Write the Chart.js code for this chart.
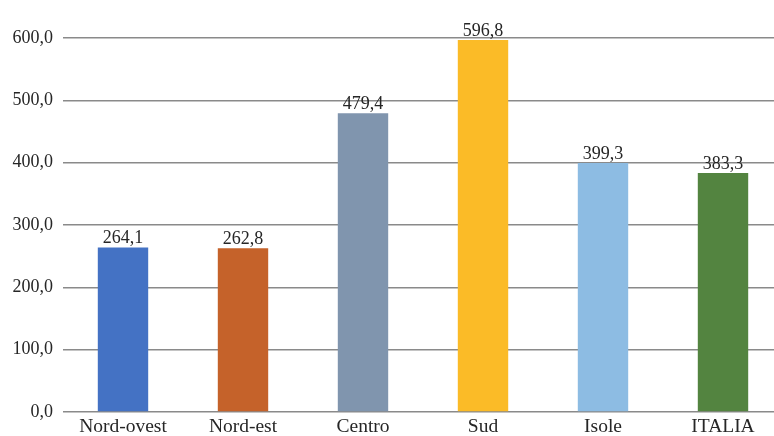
<!DOCTYPE html>
<html>
<head>
<meta charset="utf-8">
<script src="https://cdn.jsdelivr.net/npm/chart.js@4/dist/chart.umd.min.js"></script>
<style>
  html, body { margin: 0; padding: 0; background: #fff; overflow: hidden; }
  #wrap { width: 792px; height: 436px; }
</style>
</head>
<body>
<div id="wrap"><canvas id="chart" width="792" height="436"></canvas></div>
<script>
const categories = ['Nord-ovest', 'Nord-est', 'Centro', 'Sud', 'Isole', 'ITALIA'];
const values = [264.1, 262.8, 479.4, 596.8, 399.3, 383.3];
const barColors = ['#4472C4', '#C5622A', '#8095AE', '#FBBB27', '#8DBCE3', '#538440'];
const yTicks = [0, 100, 200, 300, 400, 500, 600];

const fontFamily = '"Liberation Serif", "DejaVu Serif", serif';
const fmt = (v) => v.toFixed(1).replace('.', ',');

// draws the value above each bar
const valueLabels = {
  id: 'valueLabels',
  afterDatasetsDraw(chart) {
    const ctx = chart.ctx;
    const meta = chart.getDatasetMeta(0);
    ctx.save();
    ctx.font = '18px ' + fontFamily;
    ctx.fillStyle = '#262626';
    ctx.textAlign = 'center';
    ctx.textBaseline = 'alphabetic';
    meta.data.forEach((bar, i) => {
      ctx.fillText(fmt(values[i]), bar.x, bar.y - 4);
    });
    ctx.restore();
  }
};

const ctx = document.getElementById('chart').getContext('2d');
const chart = new Chart(ctx, {
  type: 'bar',
  data: {
    labels: categories,
    datasets: [{
      data: values,
      backgroundColor: barColors,
      borderWidth: 0,
      categoryPercentage: 1,
      barPercentage: 0.42,
    }],
  },
  options: {
    responsive: false,
    animation: false,
    devicePixelRatio: 1,
    layout: { padding: { top: 38, right: 9, bottom: 0, left: 0 } },
    plugins: {
      legend: { display: false },
      tooltip: { enabled: false },
    },
    scales: {
      x: {
        grid: { display: false, drawTicks: false },
        border: { display: false },
        ticks: {
          color: '#262626',
          padding: 3,
          font: { family: fontFamily, size: 19.5 },
          maxRotation: 0,
        },
        afterFit: (scale) => { scale.height = 24; },
      },
      y: {
        min: 0,
        max: 600,
        afterBuildTicks: (scale) => {
          scale.ticks = yTicks.map((v) => ({ value: v }));
        },
        grid: { color: '#8a8a8a', lineWidth: 1.5, drawTicks: false },
        border: { display: false },
        ticks: {
          color: '#262626',
          padding: 10,
          font: { family: fontFamily, size: 18 },
          callback: (v) => fmt(v),
        },
        afterFit: (scale) => { scale.width = 63; },
      },
    },
  },
  plugins: [valueLabels],
});
</script>
</body>
</html>
